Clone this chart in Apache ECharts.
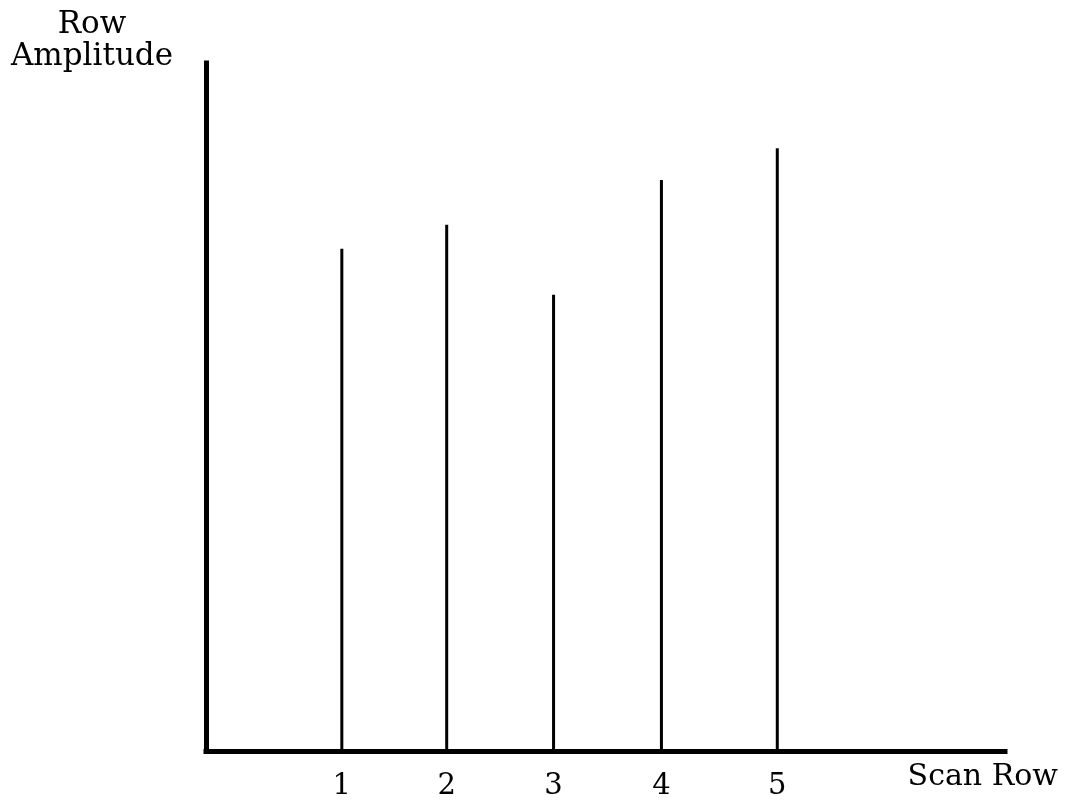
<!DOCTYPE html>
<html>
<head>
<meta charset="utf-8">
<script src="https://cdn.jsdelivr.net/npm/echarts@6/dist/echarts.min.js"></script>
<style>
  html, body { margin: 0; padding: 0; background: #fff; }
  #chart { width: 1065px; height: 806px; }
</style>
</head>
<body>
<div id="chart"></div>
<script>
// Data
const rowLabels = ['1', '2', '3', '4', '5'];
const rowPositions = [1.36, 2.41, 3.48, 4.56, 5.72];
const rowAmplitudes = [73.0, 76.5, 66.3, 83.0, 87.6];
const xAxisName = 'Scan Row';
const yAxisName = ['Row', 'Amplitude'];

const FONT = 'DejaVu Serif';
const chart = echarts.init(document.getElementById('chart'), null, { renderer: 'canvas' });

const barData = rowPositions.map((x, i) => [x, rowAmplitudes[i]]);

chart.setOption({
  animation: false,
  backgroundColor: '#ffffff',
  grid: { left: 206, right: 60, top: 63, bottom: 55, containLabel: false },
  xAxis: {
    type: 'value',
    min: 0,
    max: 8,
    name: xAxisName,
    nameLocation: 'end',
    nameGap: 53,
    nameTextStyle: {
      fontFamily: FONT, fontSize: 30, color: '#000',
      align: 'right', verticalAlign: 'top', padding: [11, 0, 0, 0]
    },
    splitLine: { show: false },
    axisTick: { show: false },
    axisLine: { show: true, lineStyle: { color: '#000', width: 5, cap: 'square' } },
    axisLabel: {
      customValues: rowPositions,
      formatter: function (v) {
        let best = 0;
        rowPositions.forEach((p, i) => { if (Math.abs(p - v) < Math.abs(rowPositions[best] - v)) best = i; });
        return rowLabels[best];
      },
      margin: 21,
      fontFamily: FONT, fontSize: 29, color: '#000'
    }
  },
  yAxis: {
    type: 'value',
    min: 0,
    max: 100,
    splitLine: { show: false },
    axisTick: { show: false },
    axisLabel: { show: false },
    axisLine: { show: true, lineStyle: { color: '#000', width: 5, cap: 'square' } }
  },
  graphic: [{
    type: 'text',
    x: 92,
    y: 9,
    style: {
      text: yAxisName.join('\n'),
      fontFamily: FONT,
      fontSize: 31,
      lineHeight: 32,
      fill: '#000',
      align: 'center',
      textAlign: 'center'
    }
  }],
  series: [{
    type: 'bar',
    data: barData,
    barWidth: 3,
    itemStyle: { color: '#000' },
    silent: true
  }]
});
</script>
</body>
</html>
